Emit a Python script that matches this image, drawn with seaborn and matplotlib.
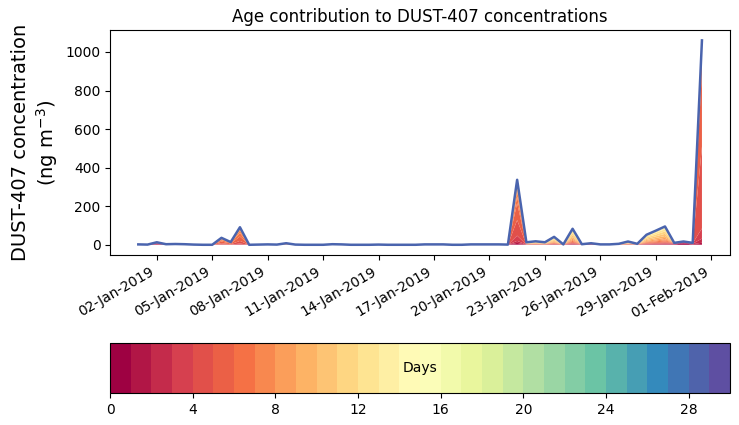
import numpy as np
import pandas as pd
import matplotlib
matplotlib.use("Agg")
import matplotlib.pyplot as plt
import matplotlib.dates as mdates
import seaborn as sns

# --- data ---
# 12-hourly totals (ng m-3), 01-Jan-2019 00:00 .. 31-Jan-2019 12:00
times = pd.date_range("2019-01-01", periods=62, freq="12h")
totals = [2, 1, 13, 3, 4, 3, 1, 0, 0, 36, 14, 91, 0, 1, 2, 1,
          8, 1, 0, 0, 0, 3, 2, 0, 0, 0, 1, 0, 0, 0, 0, 2,
          2, 2, 0, 0, 2, 2, 2, 2, 1, 337, 13, 18, 13, 41, 2, 83,
          3, 8, 2, 2, 5, 17, 5, 52, 73, 95, 10, 17, 10, 1060]

# share of each age (days 0..29) in the total, one profile per event type
prof_red = [0.10, 0.20, 0.25, 0.20, 0.12, 0.06, 0.04, 0.02, 0.01]
prof_dark = [0.45, 0.25, 0.10, 0.06, 0.04, 0.03, 0.03, 0.02, 0.02]
prof_jan5 = [0.0, 0.0, 0.02, 0.05, 0.15, 0.25, 0.20, 0.15, 0.10, 0.05, 0.03]
prof_jan23 = [0.01, 0.02, 0.03, 0.08, 0.24, 0.26, 0.10, 0.09, 0.07,
              0.05, 0.03, 0.02]
prof_big = [0.0, 0.01, 0.02, 0.05, 0.40, 0.37, 0.08, 0.04, 0.02, 0.01]
prof_yellow = [0.01, 0.02, 0.03, 0.03, 0.04, 0.05, 0.06, 0.06, 0.08, 0.10,
               0.12, 0.13, 0.12, 0.08, 0.04, 0.03]
prof_mix = [0.05, 0.05, 0.05, 0.05, 0.05, 0.05, 0.05, 0.05, 0.05, 0.05,
            0.05, 0.05, 0.05, 0.05, 0.05, 0.05, 0.05, 0.05, 0.05, 0.05]

profiles = {"red": prof_red, "dark": prof_dark, "jan5": prof_jan5,
            "jan23": prof_jan23, "big": prof_big, "yellow": prof_yellow,
            "mix": prof_mix}
profile_of = (["mix", "mix", "red", "mix", "mix", "mix", "mix", "mix",
               "jan5", "jan5", "jan5", "jan5", "mix", "mix", "dark", "mix",
               "yellow", "mix", "mix", "mix", "mix", "mix", "mix", "mix",
               "mix", "mix", "mix", "mix", "mix", "mix", "mix", "red",
               "mix", "mix", "mix", "mix", "yellow", "mix", "mix", "mix",
               "jan23", "jan23", "yellow", "yellow", "yellow", "yellow",
               "mix", "yellow", "mix", "red", "mix", "mix", "yellow",
               "yellow", "mix", "yellow", "yellow", "yellow", "red", "dark",
               "red", "big"])

n_days = 30
ages = np.zeros((n_days, len(totals)))
for j, (tot, key) in enumerate(zip(totals, profile_of)):
    p = np.zeros(n_days)
    p[:len(profiles[key])] = profiles[key]
    ages[:, j] = tot * p / p.sum()

cmap = plt.get_cmap("Spectral", n_days)
colors = [cmap(k) for k in range(n_days)]

# --- plot ---
fig = plt.figure(figsize=(7.39, 4.25), dpi=100)
ax = fig.add_axes([0.149, 0.40, 0.839, 0.529])
ax.use_sticky_edges = False
ax.stackplot(times, ages, colors=colors, linewidth=0)
sns.lineplot(x=times, y=np.array(totals, dtype=float), ax=ax,
             color="#4a64ae", linewidth=1.8)

ax.set_title("Age contribution to DUST-407 concentrations", fontsize=12)
ax.set_xlabel("")
ax.set_ylabel("DUST-407 concentration\n(ng m$^{-3}$)", fontsize=14)
ax.set_xticks(pd.date_range("2019-01-02", "2019-02-01", freq="3D"))
ax.xaxis.set_major_formatter(mdates.DateFormatter("%d-%b-%Y"))
plt.setp(ax.get_xticklabels(), rotation=30, ha="right")
ax.set_yticks([0, 200, 400, 600, 800, 1000])

# colorbar
cax = fig.add_axes([0.149, 0.075, 0.839, 0.118])
sm = matplotlib.cm.ScalarMappable(cmap=cmap,
                                  norm=matplotlib.colors.Normalize(0, n_days))
cb = fig.colorbar(sm, cax=cax, orientation="horizontal")
cb.set_ticks(range(0, 30, 4))
cax.text(15, 0.5, "Days", ha="center", va="center", fontsize=10,
         transform=cax.transData)

fig.savefig("out.png", dpi=100)
